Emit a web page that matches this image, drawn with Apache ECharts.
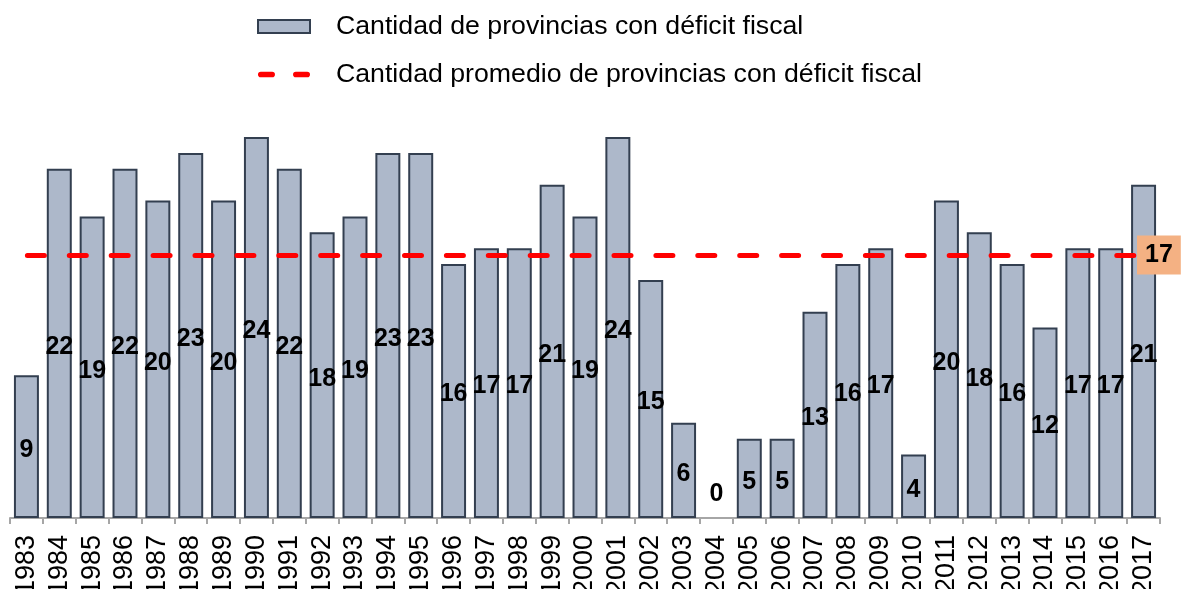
<!DOCTYPE html>
<html><head><meta charset="utf-8">
<script src="https://cdn.jsdelivr.net/npm/echarts@6/dist/echarts.min.js"></script>
<style>html,body{margin:0;padding:0;background:#fff}#c{width:1181px;height:589px}</style>
</head><body><div id="c"></div>
<script>
const years = ['1983','1984','1985','1986','1987','1988','1989','1990','1991','1992','1993','1994','1995','1996','1997','1998','1999','2000','2001','2002','2003','2004','2005','2006','2007','2008','2009','2010','2011','2012','2013','2014','2015','2016','2017'];
const provinciasDeficit = [9,22,19,22,20,23,20,24,22,18,19,23,23,16,17,17,21,19,24,15,6,0,5,5,13,16,17,4,20,18,16,12,17,17,21];
const serieBarras = 'Cantidad de provincias con déficit fiscal';
const serieLinea = 'Cantidad promedio de provincias con déficit fiscal';

const FONT = '"Liberation Sans", Arial, sans-serif';
const chart = echarts.init(document.getElementById('c'), null, {renderer: 'canvas'});
const barData = provinciasDeficit.map(v => v === 0 ? {value: v, label: {offset: [0, -24]}, itemStyle: {borderWidth: 0}} : v);

chart.setOption({
  animation: false,
  textStyle: {fontFamily: FONT},
  legend: {
    orient: 'vertical',
    left: 252,
    top: 8,
    itemWidth: 52,
    itemHeight: 13,
    itemGap: 21,
    textStyle: {fontSize: 26.7, color: '#000', fontFamily: FONT, lineHeight: 26, padding: [0, 0, 0, 21]},
    data: [
      {name: serieBarras, icon: 'rect'},
      {name: serieLinea, icon: 'path://M2.5,0H12.5A2.5,2.5,0,0,1,12.5,5H2.5A2.5,2.5,0,0,1,2.5,0Z M33.5,0H43.5A2.5,2.5,0,0,1,43.5,5H33.5A2.5,2.5,0,0,1,33.5,0Z', itemStyle: {color: '#FF0000', borderWidth: 0}}
    ]
  },
  grid: {left: 10, right: 21, top: 137, bottom: 71, containLabel: false, outerBoundsMode: 'none'},
  xAxis: {
    type: 'category',
    data: years,
    boundaryGap: true,
    axisLine: {lineStyle: {color: '#A6A6A6', width: 2}},
    axisTick: {show: true, length: 6, lineStyle: {color: '#A6A6A6', width: 2}},
    axisLabel: {rotate: 90, fontSize: 27, color: '#000', margin: 17, fontFamily: FONT, interval: 0}
  },
  yAxis: {type: 'value', min: 0, max: 24, show: false, splitLine: {show: false}},
  series: [
    {
      name: serieBarras,
      type: 'bar',
      data: barData,
      barWidth: '76%',
      itemStyle: {color: '#ADB8CA', borderColor: '#333F50', borderWidth: 2},
      label: {show: true, position: 'inside', offset: [0, 3.5], color: '#000', fontWeight: 'bold', fontSize: 25, fontFamily: FONT},
      emphasis: {disabled: true},
      markLine: {
        silent: true,
        symbol: 'none',
        data: [{type: 'average', name: 'promedio'}],
        lineStyle: {color: '#FF0000', width: 5, type: [17, 24.9], dashOffset: 24.5, cap: 'round'},
        label: {
          show: true,
          position: 'end',
          distance: -23,
          formatter: p => Math.round(p.value).toString(),
          backgroundColor: '#F4B183',
          padding: [7, 8, 7, 8],
          color: '#000',
          fontWeight: 'bold',
          fontSize: 25,
          fontFamily: FONT
        },
        emphasis: {disabled: true}
      }
    },
    {
      name: serieLinea,
      type: 'line',
      data: [],
      color: '#FF0000',
      lineStyle: {color: '#FF0000', width: 5, type: 'dashed'}
    }
  ]
});
</script>
</body></html>
